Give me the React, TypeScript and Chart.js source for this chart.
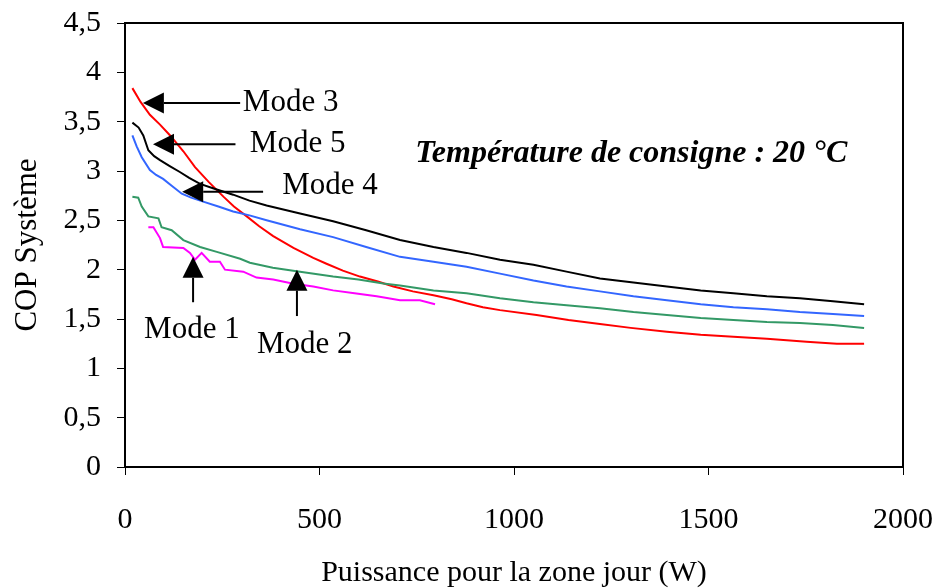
import React, { useEffect, useRef } from 'react';
import { Chart, registerables } from 'chart.js';
Chart.register(...registerables);

// ---- Data ----
const xTicksMax = 2000;
const yTicksMax = 4.5;

const mode3W = [19, 40, 64, 90, 116, 150, 180, 215, 253, 280, 313, 345, 381, 433, 484, 518, 560, 604, 650, 690, 740, 793, 840, 878, 920, 964, 1058, 1140, 1221, 1300, 1393, 1480, 1564, 1650, 1752, 1830, 1900];
const mode3COP = [3.84, 3.7, 3.57, 3.47, 3.36, 3.2, 3.04, 2.89, 2.74, 2.64, 2.54, 2.44, 2.34, 2.22, 2.12, 2.06, 1.99, 1.93, 1.88, 1.83, 1.78, 1.74, 1.7, 1.66, 1.62, 1.59, 1.54, 1.49, 1.45, 1.41, 1.37, 1.34, 1.32, 1.3, 1.27, 1.25, 1.25];

const mode5W = [19, 35, 47, 60, 75, 90, 115, 141, 165, 193, 230, 278, 320, 364, 450, 535, 620, 707, 793, 878, 964, 1050, 1135, 1221, 1307, 1393, 1480, 1564, 1650, 1735, 1820, 1900];
const mode5COP = [3.49, 3.44, 3.36, 3.21, 3.15, 3.11, 3.05, 2.99, 2.93, 2.87, 2.82, 2.76, 2.7, 2.65, 2.57, 2.49, 2.4, 2.3, 2.23, 2.17, 2.1, 2.05, 1.98, 1.91, 1.87, 1.83, 1.79, 1.76, 1.73, 1.71, 1.68, 1.65];

const mode4W = [19, 30, 43, 64, 80, 98, 120, 146, 170, 201, 240, 278, 320, 364, 450, 535, 620, 707, 793, 878, 964, 1050, 1135, 1221, 1307, 1393, 1480, 1564, 1650, 1735, 1820, 1900];
const mode4COP = [3.36, 3.25, 3.14, 3.01, 2.96, 2.92, 2.85, 2.77, 2.73, 2.69, 2.64, 2.59, 2.55, 2.5, 2.41, 2.33, 2.23, 2.13, 2.08, 2.03, 1.96, 1.89, 1.83, 1.78, 1.73, 1.69, 1.65, 1.62, 1.6, 1.57, 1.55, 1.53];

const mode2W = [19, 34, 43, 60, 86, 94, 120, 150, 193, 236, 296, 321, 380, 450, 535, 600, 664, 707, 793, 878, 964, 1050, 1135, 1221, 1307, 1393, 1480, 1564, 1650, 1735, 1820, 1900];
const mode2COP = [2.74, 2.73, 2.64, 2.54, 2.52, 2.43, 2.4, 2.3, 2.23, 2.18, 2.11, 2.07, 2.02, 1.98, 1.93, 1.9, 1.86, 1.84, 1.79, 1.76, 1.71, 1.67, 1.64, 1.61, 1.57, 1.54, 1.51, 1.49, 1.47, 1.46, 1.44, 1.41];

const mode1W = [60, 73, 90, 98, 150, 167, 180, 197, 218, 244, 257, 304, 338, 381, 430, 484, 535, 590, 647, 707, 758, 797];
const mode1COP = [2.43, 2.43, 2.32, 2.23, 2.22, 2.17, 2.1, 2.17, 2.08, 2.08, 2.0, 1.98, 1.92, 1.9, 1.86, 1.83, 1.79, 1.76, 1.73, 1.69, 1.69, 1.65];

// Annotation labels and arrows (data coordinates)
const labelTexts = ['Mode 3', 'Mode 5', 'Mode 4', 'Mode 1', 'Mode 2'];
const labelW = [303, 321, 404, 172, 462];
const labelCOP = [3.69, 3.28, 2.85, 1.39, 1.24];
const labelAlign = ['left', 'left', 'left', 'center', 'center'];
// arrows: tail -> tip
const arrowTailW = [296, 284, 355, 175, 442];
const arrowTailCOP = [3.69, 3.27, 2.79, 1.67, 1.53];
const arrowTipW = [46, 72, 147, 175, 442];
const arrowTipCOP = [3.69, 3.27, 2.79, 2.13, 2.0];

const chartTitle = 'Température de consigne : 20 °C';
const titleW = 746;
const titleCOP = 3.18;

const xAxisTitle = 'Puissance pour la zone jour (W)';
const yAxisTitle = 'COP Système';

const toPts = (xs: number[], ys: number[]) => xs.map((x, i) => ({ x, y: ys[i] }));

const SERIF = '"Liberation Serif", "Times New Roman", serif';

const annotationPlugin = {
  id: 'annotations',
  afterDraw(chart: any) {
    const { ctx, chartArea, scales } = chart;
    const xs = scales.x;
    const ys = scales.y;
    ctx.save();
    // frame
    ctx.strokeStyle = '#000';
    ctx.lineWidth = 2;
    ctx.strokeRect(chartArea.left, chartArea.top, chartArea.right - chartArea.left, chartArea.bottom - chartArea.top);

    // arrows
    for (let i = 0; i < arrowTipW.length; i++) {
      const x0 = xs.getPixelForValue(arrowTailW[i]);
      const y0 = ys.getPixelForValue(arrowTailCOP[i]);
      const x1 = xs.getPixelForValue(arrowTipW[i]);
      const y1 = ys.getPixelForValue(arrowTipCOP[i]);
      const ang = Math.atan2(y1 - y0, x1 - x0);
      const headLen = 21;
      const headHalf = 10.5;
      const bx = x1 - headLen * Math.cos(ang);
      const by = y1 - headLen * Math.sin(ang);
      ctx.beginPath();
      ctx.moveTo(x0, y0);
      ctx.lineTo(bx, by);
      ctx.lineWidth = 2;
      ctx.strokeStyle = '#000';
      ctx.stroke();
      ctx.beginPath();
      ctx.moveTo(x1, y1);
      ctx.lineTo(bx + headHalf * Math.sin(ang), by - headHalf * Math.cos(ang));
      ctx.lineTo(bx - headHalf * Math.sin(ang), by + headHalf * Math.cos(ang));
      ctx.closePath();
      ctx.fillStyle = '#000';
      ctx.fill();
    }

    // labels
    ctx.font = `31px ${SERIF}`;
    ctx.fillStyle = '#000';
    ctx.textBaseline = 'middle';
    for (let i = 0; i < labelTexts.length; i++) {
      ctx.textAlign = labelAlign[i] as CanvasTextAlign;
      ctx.fillText(labelTexts[i], xs.getPixelForValue(labelW[i]), ys.getPixelForValue(labelCOP[i]));
    }

    // title
    ctx.font = `italic bold 32px ${SERIF}`;
    ctx.textAlign = 'left';
    ctx.fillText(chartTitle, xs.getPixelForValue(titleW), ys.getPixelForValue(titleCOP));
    ctx.restore();
  },
};

export default function App() {
  const ref = useRef<HTMLCanvasElement | null>(null);
  useEffect(() => {
    document.body.style.margin = '0';
    const canvas = ref.current;
    if (!canvas) return;
    const mk = (label: string, xs: number[], ys: number[], color: string) => ({
      label,
      data: toPts(xs, ys),
      borderColor: color,
      backgroundColor: color,
      borderWidth: 2,
      pointRadius: 0,
      tension: 0,
      fill: false,
    });
    const chart = new Chart(canvas, {
      type: 'line',
      data: {
        datasets: [
          mk('Mode 1', mode1W, mode1COP, '#FF00FF'),
          mk('Mode 2', mode2W, mode2COP, '#339966'),
          mk('Mode 4', mode4W, mode4COP, '#3366FF'),
          mk('Mode 5', mode5W, mode5COP, '#000000'),
          mk('Mode 3', mode3W, mode3COP, '#FF0000'),
        ],
      },
      options: {
        animation: false,
        responsive: false,
        maintainAspectRatio: false,
        layout: { padding: { top: 23, right: 32, left: 0, bottom: 0 } },
        plugins: { legend: { display: false }, tooltip: { enabled: false }, title: { display: false } },
        scales: {
          x: {
            type: 'linear',
            min: 0,
            max: xTicksMax,
            ticks: {
              stepSize: 500,
              color: '#000',
              font: { family: SERIF, size: 30 },
              padding: 27,
              maxRotation: 0,
              callback: (v: any) => String(Number(v)),
            },
            grid: { display: true, drawOnChartArea: false, drawTicks: true, tickLength: 8, color: '#000', lineWidth: 1 },
            border: { display: true, color: '#000', width: 2 },
            title: { display: true, text: xAxisTitle, color: '#000', font: { family: SERIF, size: 30 }, padding: { top: 0, bottom: -3 } },
            afterFit: (s: any) => { s.height = 121; s.paddingLeft = 0; s.paddingRight = 0; },
          },
          y: {
            type: 'linear',
            min: 0,
            max: yTicksMax,
            ticks: {
              stepSize: 0.5,
              color: '#000',
              font: { family: SERIF, size: 30 },
              padding: 16,
              callback: (v: any) => String(Number(v)).replace('.', ','),
            },
            grid: { display: true, drawOnChartArea: false, drawTicks: true, tickLength: 8, color: '#000', lineWidth: 1 },
            border: { display: true, color: '#000', width: 2 },
            title: { display: true, text: yAxisTitle, color: '#000', font: { family: SERIF, size: 31 }, padding: { top: 9, bottom: 0 } },
            afterFit: (s: any) => { s.width = 125; s.paddingTop = 0; s.paddingBottom = 0; },
          },
        },
      },
      plugins: [annotationPlugin],
    });
    return () => chart.destroy();
  }, []);
  return (
    <div style={{ width: 935, height: 588 }}>
      <canvas ref={ref} width={935} height={588} style={{ display: 'block', width: 935, height: 588 }} />
    </div>
  );
}
